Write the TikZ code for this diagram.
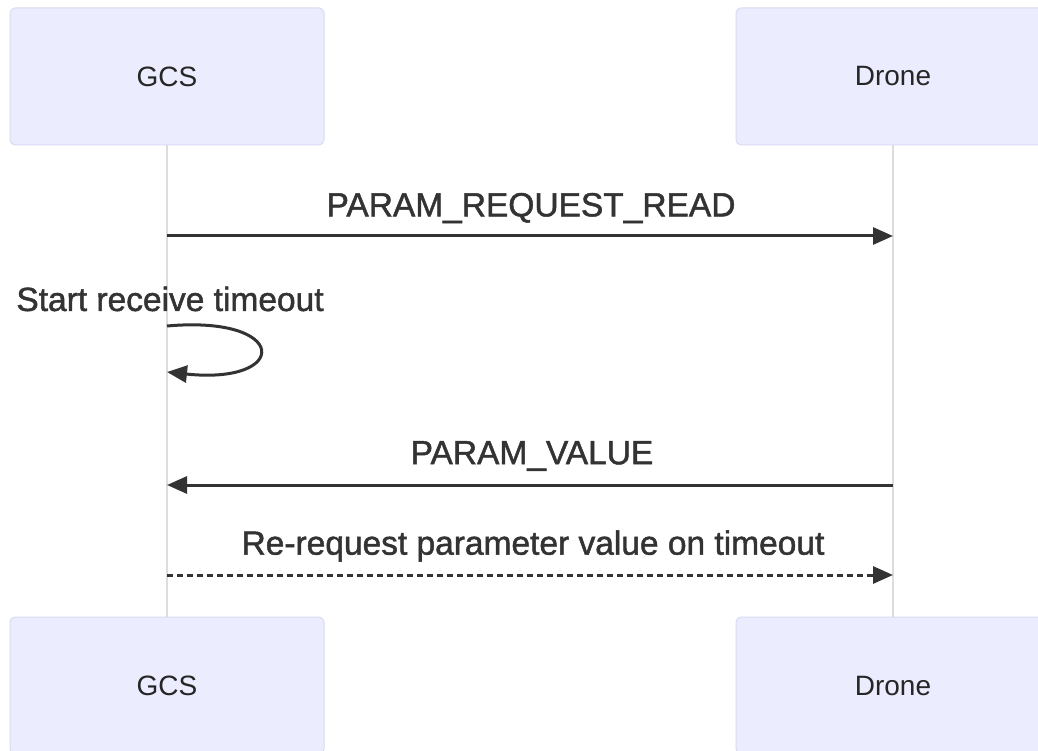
\documentclass[tikz,border=0pt]{standalone}
\usepackage{fontspec}
\setmainfont{Liberation Sans}
\newfontfamily\msgfont[FakeBold=1.4]{Liberation Sans}
\usetikzlibrary{arrows.meta}
\definecolor{actorfill}{HTML}{ECECFF}
\definecolor{actorline}{HTML}{DADAF2}
\definecolor{lifecol}{HTML}{DDDDDD}
\definecolor{msgcol}{HTML}{333333}
\tikzset{
  actor/.style={draw=actorline, line width=1pt, fill=actorfill, rounded corners=5pt,
    minimum width=314pt, minimum height=137pt, inner sep=0pt,
    font=\fontsize{28}{32}\selectfont, text=black!85},
  lifeline/.style={draw=lifecol, line width=2pt},
  msg/.style={draw=msgcol, line width=3pt, -{Triangle[length=20pt,width=17pt]}},
  msglabel/.style={font=\msgfont\fontsize{33.5}{38}\selectfont, text=msgcol, inner sep=0pt}
}
\begin{document}
\begin{tikzpicture}[x=1pt,y=-1pt]
\useasboundingbox (0,0) rectangle (1038,751);
\fill[white] (0,0) rectangle (1038,751);
% lifelines
\coordinate (gtop) at (167,145);
\coordinate (gbot) at (167,617);
\coordinate (dtop) at (893,145);
\coordinate (dbot) at (893,617);
\draw[lifeline] (gtop) -- (gbot);
\draw[lifeline] (dtop) -- (dbot);
% actors
\node[actor] (gcs1) at (167,76.5) {GCS};
\node[actor] (dr1) at (893,76.5) {Drone};
\node[actor] (gcs2) at (167,685.5) {GCS};
\node[actor] (dr2) at (893,685.5) {Drone};
% messages
\coordinate (m1s) at (167,236);
\coordinate (m1e) at (893,236);
\draw[msg] (m1s) -- (m1e);
\node[msglabel] (l1) at (531,208) {PARAM\_REQUEST\_READ};

\node[msglabel] (l2) at (170,299) {Start receive timeout};
\coordinate (s1) at (167,326);
\coordinate (s2) at (167,372);
\draw[msg] (s1) .. controls (290,315) and (290,385) .. (s2);

\coordinate (m3s) at (893,485);
\coordinate (m3e) at (167,485);
\draw[msg] (m3s) -- (m3e);
\node[msglabel] (l3) at (532,456) {PARAM\_VALUE};

\coordinate (m4s) at (167,575);
\coordinate (m4e) at (893,575);
\draw[msg, dash pattern=on 6pt off 4pt] (m4s) -- (m4e);
\node[msglabel] (l4) at (533,546) {Re-request parameter value on timeout};
\end{tikzpicture}
\end{document}
